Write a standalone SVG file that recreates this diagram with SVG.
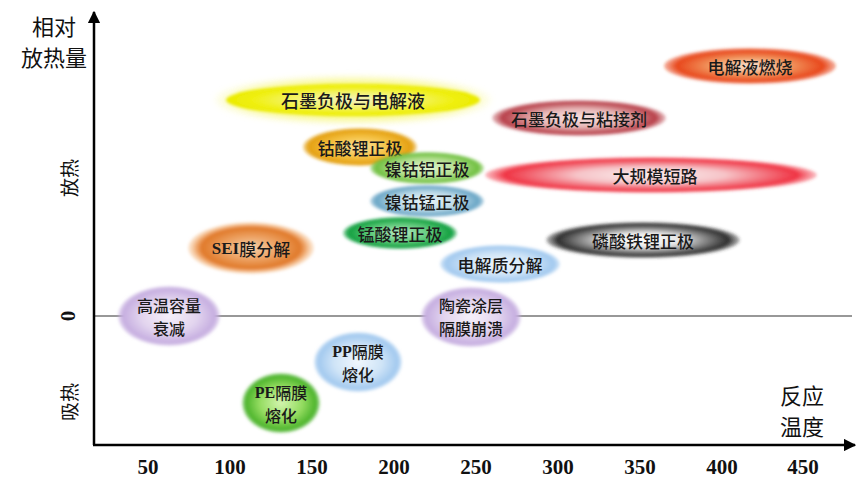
<svg xmlns="http://www.w3.org/2000/svg" width="865" height="494" viewBox="0 0 865 494">
<style>
.ax{stroke:#000;stroke-width:2.5;fill:none}
.zero{stroke:#333;stroke-width:1.2}
.t{font-family:"Noto Sans CJK SC","Liberation Sans",sans-serif;font-size:17px;font-weight:500;fill:#1a1a1a;text-anchor:middle;dominant-baseline:central}
.t2{font-size:16px}
.b{font-family:"Liberation Serif",serif;font-weight:bold}
.al{font-family:"Noto Sans CJK SC","Liberation Sans",sans-serif;font-size:22px;fill:#111;text-anchor:middle;dominant-baseline:central}
.sl{font-family:"Noto Sans CJK SC","Liberation Sans",sans-serif;font-size:19px;fill:#111;text-anchor:middle;dominant-baseline:central}
.tick{font-family:"Liberation Serif",serif;font-weight:bold;font-size:21px;fill:#111;text-anchor:middle;dominant-baseline:central}
</style>
<defs>
<filter id="soft" x="-10%" y="-30%" width="120%" height="160%"><feGaussianBlur stdDeviation="1.6"/></filter>
<filter id="glow" x="-10%" y="-40%" width="120%" height="180%"><feGaussianBlur stdDeviation="3"/></filter>
<marker id="arr" viewBox="0 0 10 10" refX="9" refY="5" markerWidth="5" markerHeight="5" orient="auto"><path d="M0,0L10,5L0,10z" fill="#000"/></marker>
<radialGradient id="gFire"><stop offset="0" stop-color="#fbe6d6"/><stop offset="0.45" stop-color="#f29a62"/><stop offset="0.85" stop-color="#e8481c"/><stop offset="1" stop-color="#e8481c" stop-opacity="0.4"/></radialGradient>
<radialGradient id="gBind"><stop offset="0" stop-color="#f7e4e4"/><stop offset="0.5" stop-color="#e7b6b6"/><stop offset="0.88" stop-color="#b8404a"/><stop offset="1" stop-color="#b8404a" stop-opacity="0.3"/></radialGradient>
<radialGradient id="gShort"><stop offset="0" stop-color="#fbf0f0"/><stop offset="0.45" stop-color="#f6c4c8"/><stop offset="0.88" stop-color="#f03444"/><stop offset="1" stop-color="#f03444" stop-opacity="0.3"/></radialGradient>
<radialGradient id="gLFP"><stop offset="0" stop-color="#ffffff"/><stop offset="0.4" stop-color="#e6e6e6"/><stop offset="0.88" stop-color="#2e2e2e"/><stop offset="1" stop-color="#2e2e2e" stop-opacity="0.3"/></radialGradient>
<radialGradient id="gYel"><stop offset="0" stop-color="#f2f2c0"/><stop offset="0.45" stop-color="#f4f470"/><stop offset="0.8" stop-color="#f0f010"/><stop offset="1" stop-color="#eaea00"/></radialGradient>
<radialGradient id="gYelGlow"><stop offset="0" stop-color="#f4f450"/><stop offset="0.8" stop-color="#f6f670"/><stop offset="1" stop-color="#fafab0" stop-opacity="0.3"/></radialGradient>
<radialGradient id="gLCO"><stop offset="0" stop-color="#fbe29a"/><stop offset="0.55" stop-color="#f4c040"/><stop offset="0.9" stop-color="#e4a012"/><stop offset="1" stop-color="#e4a012" stop-opacity="0.4"/></radialGradient>
<radialGradient id="gNCA"><stop offset="0" stop-color="#e2f4d2"/><stop offset="0.55" stop-color="#b4e090"/><stop offset="0.9" stop-color="#70c040"/><stop offset="1" stop-color="#70c040" stop-opacity="0.4"/></radialGradient>
<radialGradient id="gNCM"><stop offset="0" stop-color="#eaf4f8"/><stop offset="0.55" stop-color="#bcdae8"/><stop offset="0.9" stop-color="#6aa6c6"/><stop offset="1" stop-color="#6aa6c6" stop-opacity="0.4"/></radialGradient>
<radialGradient id="gLMO"><stop offset="0" stop-color="#b8ecc4"/><stop offset="0.55" stop-color="#5cc878"/><stop offset="0.9" stop-color="#12a040"/><stop offset="1" stop-color="#12a040" stop-opacity="0.4"/></radialGradient>
<radialGradient id="gSEI"><stop offset="0" stop-color="#f4d0aa"/><stop offset="0.45" stop-color="#eca060"/><stop offset="0.78" stop-color="#e07a2a"/><stop offset="0.86" stop-color="#eea468"/><stop offset="1" stop-color="#f8cca0" stop-opacity="0.4"/></radialGradient>
<radialGradient id="gBlue"><stop offset="0" stop-color="#f0f7fd"/><stop offset="0.55" stop-color="#cfe4f7"/><stop offset="0.9" stop-color="#a2c9ef"/><stop offset="1" stop-color="#a2c9ef" stop-opacity="0.4"/></radialGradient>
<radialGradient id="gLav"><stop offset="0" stop-color="#f6f0fa"/><stop offset="0.55" stop-color="#e2d4ee"/><stop offset="0.9" stop-color="#c6aee0"/><stop offset="1" stop-color="#c6aee0" stop-opacity="0.4"/></radialGradient>
<radialGradient id="gPE"><stop offset="0" stop-color="#d4f4b0"/><stop offset="0.55" stop-color="#94dc60"/><stop offset="0.9" stop-color="#4cb42c"/><stop offset="1" stop-color="#4cb42c" stop-opacity="0.4"/></radialGradient>
</defs>

<g id="axes">
<line class="zero" x1="94" y1="316" x2="852" y2="316"/>
<line class="ax" x1="94" y1="445" x2="94" y2="12" marker-end="url(#arr)"/>
<line class="ax" x1="93" y1="445" x2="855" y2="445" marker-end="url(#arr)"/>
<text class="al" x="54" y="25">相对</text>
<text class="al" x="54" y="56">放热量</text>
<text class="al" x="802" y="394">反应</text>
<text class="al" x="802" y="425">温度</text>
<text class="sl" transform="translate(68,178) rotate(-90)">放热</text>
<text class="tick" transform="translate(68,316) rotate(-90)">0</text>
<text class="sl" transform="translate(68,402) rotate(-90)">吸热</text>
<text class="tick" x="148" y="467">50</text>
<text class="tick" x="230" y="467">100</text>
<text class="tick" x="312" y="467">150</text>
<text class="tick" x="394" y="467">200</text>
<text class="tick" x="476" y="467">250</text>
<text class="tick" x="558" y="467">300</text>
<text class="tick" x="640" y="467">350</text>
<text class="tick" x="722" y="467">400</text>
<text class="tick" x="803" y="467">450</text>
</g>

<g id="connectors"></g>

<g id="n-fire"><ellipse cx="750" cy="66" rx="86" ry="18" fill="url(#gFire)" filter="url(#soft)"/><text class="t" x="750" y="66">电解液燃烧</text></g>
<g id="n-bind"><ellipse cx="579" cy="118" rx="87" ry="18" fill="url(#gBind)" filter="url(#soft)"/><text class="t" x="579" y="118">石墨负极与粘接剂</text></g>
<g id="n-short"><ellipse cx="651" cy="175" rx="166" ry="18" fill="url(#gShort)" filter="url(#soft)"/><text class="t" x="655" y="175">大规模短路</text></g>
<g id="n-lfp"><ellipse cx="643" cy="240" rx="97" ry="18" fill="url(#gLFP)" filter="url(#soft)"/><text class="t" x="643" y="240">磷酸铁锂正极</text></g>
<g id="n-graph"><ellipse cx="353" cy="100" rx="138" ry="24" fill="url(#gYelGlow)" filter="url(#glow)" opacity="0.75"/><ellipse cx="353" cy="100" rx="127" ry="16" fill="url(#gYel)" filter="url(#soft)"/><text class="t" x="353" y="100" style="font-size:18px">石墨负极与电解液</text></g>
<g id="n-lco"><ellipse cx="360" cy="147" rx="57" ry="19" fill="url(#gLCO)" filter="url(#soft)"/><text class="t" x="360" y="147">钴酸锂正极</text></g>
<g id="n-nca"><ellipse cx="427" cy="168" rx="57" ry="16" fill="url(#gNCA)" filter="url(#soft)"/><text class="t" x="427" y="168">镍钴铝正极</text></g>
<g id="n-ncm"><ellipse cx="427" cy="201" rx="57" ry="16" fill="url(#gNCM)" filter="url(#soft)"/><text class="t" x="427" y="201">镍钴锰正极</text></g>
<g id="n-lmo"><ellipse cx="400" cy="233" rx="57" ry="16" fill="url(#gLMO)" filter="url(#soft)"/><text class="t" x="400" y="233">锰酸锂正极</text></g>
<g id="n-sei"><ellipse cx="251" cy="248" rx="63" ry="26" fill="url(#gSEI)" filter="url(#soft)"/><text class="t" x="251" y="248"><tspan class="b">SEI</tspan>膜分解</text></g>
<g id="n-elec"><ellipse cx="500" cy="264" rx="60" ry="19" fill="url(#gBlue)" filter="url(#soft)"/><text class="t" x="500" y="264">电解质分解</text></g>
<g id="n-cap"><ellipse cx="169" cy="316" rx="51" ry="30" fill="url(#gLav)" filter="url(#soft)"/><text class="t t2" x="169" y="305">高温容量</text><text class="t t2" x="169" y="328">衰减</text></g>
<g id="n-cer"><ellipse cx="471" cy="317" rx="50" ry="30" fill="url(#gLav)" filter="url(#soft)"/><text class="t t2" x="471" y="305">陶瓷涂层</text><text class="t t2" x="471" y="328">隔膜崩溃</text></g>
<g id="n-pp"><ellipse cx="358" cy="362" rx="44" ry="30" fill="url(#gBlue)" filter="url(#soft)"/><text class="t t2" x="358" y="351"><tspan class="b">PP</tspan>隔膜</text><text class="t t2" x="358" y="374">熔化</text></g>
<g id="n-pe"><ellipse cx="281" cy="403" rx="39" ry="30" fill="url(#gPE)" filter="url(#soft)"/><text class="t t2" x="281" y="392"><tspan class="b">PE</tspan>隔膜</text><text class="t t2" x="281" y="415">熔化</text></g>
</svg>
